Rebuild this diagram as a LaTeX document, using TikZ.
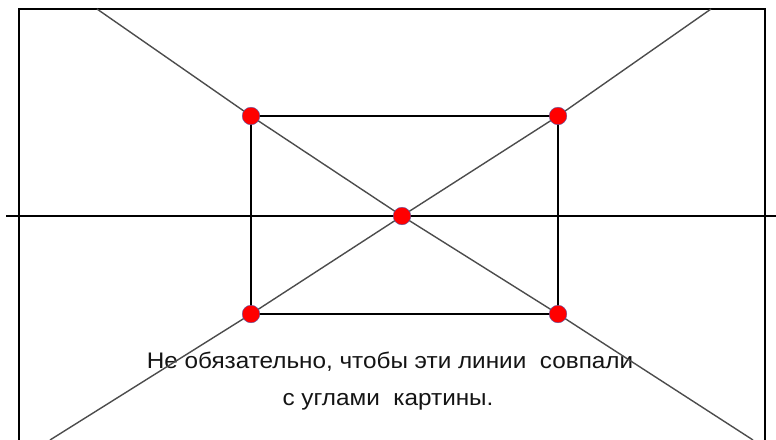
\documentclass[tikz,border=0pt]{standalone}
\usepackage{fontspec}
\setmainfont{Liberation Sans}
\begin{document}
\begin{tikzpicture}[x=1pt,y=-1pt,
  frame/.style={draw=black,line width=2.2pt},
  inner/.style={draw=black,line width=2.4pt},
  horiz/.style={draw=black,line width=2.4pt},
  diag/.style={draw=black!70,line width=1.4pt},
  reddot/.style={fill=red,draw=blue!30!gray,line width=0.4pt},
  note/.style={font=\fontsize{22.5}{37}\selectfont,text=black!92,inner sep=0pt,anchor=base}]
\useasboundingbox (0,0) rectangle (776,439);
% key points
\coordinate (tl) at (251,116);
\coordinate (tr) at (558,116);
\coordinate (bl) at (251,314);
\coordinate (br) at (558,314);
\coordinate (c) at (402,216);
\coordinate (d1top) at (97,9);
\coordinate (d1bot) at (753,440);
\coordinate (d2top) at (711,9);
\coordinate (d2bot) at (50,440);
\coordinate (hl) at (6,216);
\coordinate (hr) at (776,216);
\coordinate (fa) at (19,9);
\coordinate (fb) at (765,441);
% text
\node[note] (t1) at (390,368) {\scalebox{1.08}[1]{Не обязательно, чтобы эти линии\ \ совпали}};
\node[note] (t2) at (388,405) {\scalebox{1.08}[1]{с углами\ \ картины.}};
% frame
\draw[frame] (fa) rectangle (fb);
% inner rectangle
\draw[inner] (tl) rectangle (br);
% horizon
\draw[horiz] (hl) -- (hr);
% diagonals
\draw[diag] (d1top) -- (tl) -- (c) -- (br) -- (d1bot);
\draw[diag] (d2top) -- (tr) -- (c) -- (bl) -- (d2bot);
% dots
\foreach \p in {tl,tr,bl,br,c}
  \path[reddot] (\p) circle (8.8);
\end{tikzpicture}
\end{document}
